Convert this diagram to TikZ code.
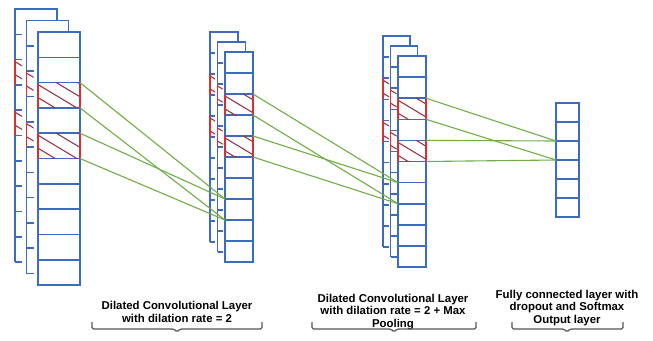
\documentclass[tikz,border=0pt]{standalone}
\usepackage{fontspec}
\setmainfont{Liberation Sans}
\usetikzlibrary{positioning}
\definecolor{cellblue}{RGB}{62,108,188}
\definecolor{edgered}{RGB}{214,48,52}
\definecolor{hatchred}{RGB}{150,52,72}
\definecolor{linkgreen}{RGB}{112,173,71}
\definecolor{bracegray}{RGB}{85,85,85}

\tikzset{
  cell/.style={draw=cellblue, line width=1.6pt, fill=white, rectangle, inner sep=0pt, outer sep=0pt},
  frame/.style={draw=cellblue, line width=1.6pt},
  edge/.style={draw=edgered, line width=1.7pt},
  hatch/.style={draw=hatchred, line width=1.1pt},
  link/.style={draw=linkgreen, line width=1.1pt},
  brace/.style={draw=bracegray, line width=1.2pt, rounded corners=1.5pt},
  caption/.style={align=center, font=\fontsize{11.4}{12.4}\selectfont\bfseries, inner sep=0pt}
}

% hatching of one cell, from its top left corner
\newcommand{\hatchlines}{\foreach \o in {-24,-11,2,15} \draw[hatch] (0,\o) -- ++(60,36);}

% sheet behind a layer: left, top, width, row height, rows, drop, tick
\newcommand{\backsheet}[7]{%
  \draw[frame] (#1,#2+#5*#4) -- (#1,#2) -- (#1+#3,#2) -- (#1+#3,#2+#6);
  \foreach \r in {1,...,#5} \draw[frame] (#1,#2+\r*#4) -- ++(#7,0);
  \foreach \r in {2,4} {
    \begin{scope}
      \clip (#1,#2+\r*#4) rectangle ++(#7,#4);
      \begin{scope}[shift={(#1,#2+\r*#4)}] \hatchlines \end{scope}
    \end{scope}
    \draw[edge] (#1,#2+\r*#4) -- ++(0,#4);
  }
}

\begin{document}
\begin{tikzpicture}[x=1pt, y=-1pt]
  \useasboundingbox (0,0) rectangle (653,340);

  % input layer
  \backsheet{15}{9}{42}{25.3}{10}{11.5}{7}
  \backsheet{26.5}{20.5}{42}{25.3}{10}{11.5}{7}
  \foreach \i in {1,...,10}
    \node[cell, minimum width=42pt, minimum height=25.3pt] (a\i) at (59,19.35+25.3*\i) {};

  % first dilated layer
  \backsheet{210}{32}{28}{21}{10}{10}{5}
  \backsheet{217.5}{42}{28}{21}{10}{10}{5}
  \foreach \i in {1,...,10}
    \node[cell, minimum width=28pt, minimum height=21pt] (b\i) at (239,41.5+21*\i) {};

  % second dilated layer
  \backsheet{383}{36}{27}{21.1}{10}{10}{6}
  \backsheet{390.5}{46}{27}{21.1}{10}{10}{6}
  \foreach \i in {1,...,10}
    \node[cell, minimum width=28pt, minimum height=21.1pt] (c\i) at (412,45.45+21.1*\i) {};

  % output layer
  \foreach \i in {1,...,6}
    \node[cell, minimum width=23pt, minimum height=19pt] (d\i) at (567.5,93.5+19*\i) {};

  % hatched cells
  \foreach \l in {a,b,c}
    \foreach \i in {3,5} {
      \begin{scope}
        \clip (\l\i.north west) rectangle (\l\i.south east);
        \begin{scope}[shift={(\l\i.north west)}] \hatchlines \end{scope}
      \end{scope}
      \draw[edge] (\l\i.north west) -- (\l\i.south west) (\l\i.north east) -- (\l\i.south east);
    }

  % connections
  \draw[link] (a3.north east) -- (b8.north west);
  \draw[link] (a5.north east) -- (b8.north west);
  \draw[link] (a3.south east) -- (b8.south west);
  \draw[link] (a5.south east) -- (b8.south west);
  \draw[link] (b3.north east) -- (c7.north west);
  \draw[link] (b5.north east) -- (c7.north west);
  \draw[link] (b3.south east) -- (c7.south west);
  \draw[link] (b5.south east) -- (c7.south west);
  \draw[link] (c3.north east) -- (d3.north west);
  \draw[link] (c5.north east) -- (d3.north west);
  \draw[link] (c3.south east) -- (d3.south west);
  \draw[link] (c5.south east) -- (d3.south west);

  % captions
  \node[caption, anchor=base] (cap1) at (177,322) {Dilated Convolutional Layer\\with dilation rate = 2};
  \node[caption, anchor=base] (cap2) at (393,327) {Dilated Convolutional Layer\\with dilation rate = 2 + Max\\Pooling};
  \node[caption, anchor=base] (cap3) at (567,323) {Fully connected layer with\\dropout and Softmax\\Output layer};

  \draw[brace] (92,322) -- (92,329) -- (174,329) -- (177,332) -- (180,329) -- (262,329) -- (262,322);
  \draw[brace] (312,322) -- (312,329) -- (391,329) -- (394,332) -- (397,329) -- (476,329) -- (476,322);
  \draw[brace] (512,322) -- (512,329) -- (564,329) -- (567,332) -- (570,329) -- (623,329) -- (623,322);
\end{tikzpicture}
\end{document}
